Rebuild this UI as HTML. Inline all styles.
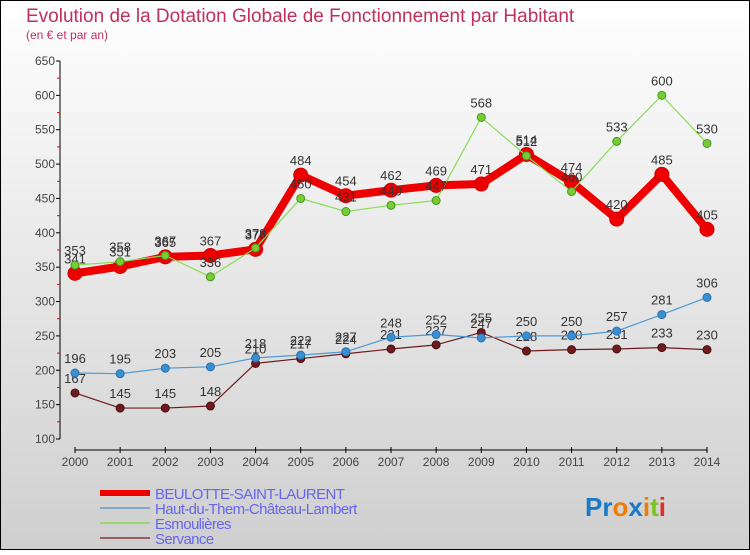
<!DOCTYPE html>
<html><head><meta charset="utf-8"><style>
html,body{margin:0;padding:0}
body{width:750px;height:550px;overflow:hidden;font-family:"Liberation Sans",sans-serif}
</style></head><body>
<svg id="chart" width="750" height="550" xmlns="http://www.w3.org/2000/svg">
<defs><linearGradient id="bg" x1="0" y1="0" x2="0" y2="1"><stop offset="0" stop-color="#ffffff"/><stop offset="1" stop-color="#cfcfcf"/></linearGradient></defs>
<rect x="0.5" y="0.5" width="749" height="549" fill="url(#bg)" stroke="#000"/>
<text x="26" y="22" font-size="19" fill="#c0305a">Evolution de la Dotation Globale de Fonctionnement par Habitant</text>
<text x="26" y="39" font-size="12" fill="#c0305a">(en € et par an)</text>
<g id="axes"></g><g id="series"></g><g id="legend"></g>
<text x="585" y="516" font-size="26" font-weight="bold" fill="#1a7ac8">Pr<tspan fill="#f07d00">o</tspan><tspan fill="#1a7ac8">x</tspan><tspan fill="#f07d00">i</tspan><tspan fill="#7cc420">t</tspan><tspan fill="#e03020">i</tspan></text>
</svg>
<script>
const years=[2000,2001,2002,2003,2004,2005,2006,2007,2008,2009,2010,2011,2012,2013,2014];
const yTicks=[100,150,200,250,300,350,400,450,500,550,600,650];
const beulotte=[341,351,365,367,376,484,454,462,469,471,514,474,420,485,405];
const haut=[196,195,203,205,218,222,227,248,252,247,250,250,257,281,306];
const esmoulieres=[353,358,367,336,378,450,431,440,447,568,512,460,533,600,530];
const servance=[167,145,145,148,210,217,224,231,237,255,228,230,231,233,230];
const NS="http://www.w3.org/2000/svg";
const xs=i=>75+i*(707-75)/(years.length-1);
const ys=v=>439-(v-100)*(439-61)/550;
function mk(tag,attrs,parent){const e=document.createElementNS(NS,tag);for(const k in attrs)e.setAttribute(k,attrs[k]);parent.appendChild(e);return e;}
const ax=document.getElementById('axes');
let l=mk('line',{x1:60,y1:61,x2:60,y2:439,stroke:'#000'},ax);


yTicks.forEach((t,i)=>{
 mk('line',{x1:56,x2:60,y1:ys(t),y2:ys(t),stroke:'#000'},ax);
 if(i<yTicks.length-1) mk('line',{x1:57,x2:60,y1:ys(t+25),y2:ys(t+25),stroke:'#f00'},ax);
 const tx=mk('text',{x:55,y:ys(t)+4,'text-anchor':'end','font-size':12,fill:'#444'},ax);
 tx.textContent=t;
 
 
});
l=mk('line',{x1:75,y1:450,x2:707,y2:450,stroke:'#000'},ax);


years.forEach((y,i)=>{
 mk('line',{x1:xs(i),x2:xs(i),y1:447,y2:453,stroke:'#000'},ax);
 const tx=mk('text',{x:xs(i),y:466,'text-anchor':'middle','font-size':12,fill:'#444'},ax);
 tx.textContent=y;
 
 
});
const sg=document.getElementById('series');
function draw(data,name,color,w,r,dot,stroke){
 const g=mk('g',{},sg);
 
 
 const p=mk('polyline',{points:data.map((v,i)=>xs(i)+','+ys(v)).join(' '),fill:'none',stroke:color,'stroke-width':w,'stroke-linejoin':'round'},g);
 
 
 data.forEach((v,i)=>{
  const c=mk('circle',{cx:xs(i),cy:ys(v),r:r,fill:dot,stroke:stroke,'stroke-width':1},g);
  
  
  const t=mk('text',{x:xs(i),y:ys(v)-10,'text-anchor':'middle','font-size':13,fill:'#333'},g);
  t.textContent=v;
  
  
 });
}
draw(servance,'servance','#6e1a1e',1.2,4,'#6e1a1e','#4a1010');
draw(haut,'haut-du-them','#4a9ad8',1.2,4,'#3a8fd0','#2a70b0');
draw(beulotte,'beulotte-saint-laurent','#ee0000',8,7,'#ee0000','#cc0000');
draw(esmoulieres,'esmoulieres','#88dd55',1.2,4,'#77cc33','#449922');
const lg=document.getElementById('legend');
const items=[['BEULOTTE-SAINT-LAURENT','#ee0000',6],['Haut-du-Them-Château-Lambert','#80a8c8',2],['Esmoulières','#99d870',2],['Servance','#9a6060',2]];
items.forEach((it,i)=>{
 const y=493+i*15;
 const g=mk('g',{},lg);
 
 
 mk('line',{x1:100,x2:150,y1:y,y2:y,stroke:it[1],'stroke-width':it[2]},g);
 const t=mk('text',{x:155,y:y+6,'font-size':15,fill:'#6666ee','letter-spacing':'-0.6'},g);
 t.textContent=it[0];
});
</script>
</body></html>
